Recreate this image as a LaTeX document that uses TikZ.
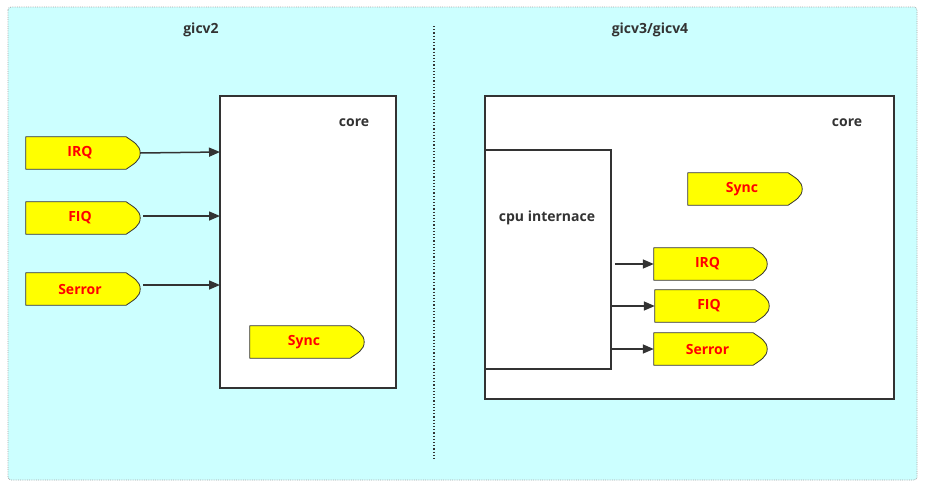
\documentclass[tikz,border=0pt]{standalone}
\usepackage{fontspec}
\setmainfont{Open Sans}
\usetikzlibrary{arrows.meta}
\definecolor{bgcyan}{HTML}{CCFFFF}
\definecolor{dk}{HTML}{333333}
\definecolor{sigyellow}{HTML}{FFFF00}
\definecolor{sigred}{HTML}{FF0000}
\pgfdeclarelayer{back}
\pgfdeclarelayer{mid}
\pgfsetlayers{back,mid,main}
\tikzset{
  lbl/.style={text=dk,font=\bfseries\fontsize{14}{16}\selectfont,inner sep=0pt},
  box/.style={draw=dk,line width=1.6pt,fill=white,inner sep=0pt},
  sigbox/.style={minimum width=114pt,minimum height=32pt,inner sep=0pt},
  sigtxt/.style={text=sigred,font=\bfseries\fontsize{14}{16}\selectfont,inner sep=0pt},
  sigshape/.style={draw=dk,line width=0.8pt,fill=sigyellow,line join=round},
  conn/.style={draw=dk,line width=1.5pt,-{Triangle[length=11pt,width=9pt]}},
}
\newcommand{\sigdraw}[2]{%
  \begin{pgfonlayer}{mid}
  \path[sigshape] (#1.north west) -- ([xshift=-14pt]#1.north east)
    .. controls ([xshift=-7pt,yshift=-5pt]#1.north east) and ([yshift=8pt]#1.east) .. (#1.east)
    .. controls ([yshift=-8pt]#1.east) and ([xshift=-7pt,yshift=5pt]#1.south east) .. ([xshift=-14pt]#1.south east)
    -- (#1.south west) -- cycle;
  \end{pgfonlayer}
  \node[sigtxt] (#1t) at ([xshift=-3pt]#1.center) {#2};}
\begin{document}
\begin{tikzpicture}[x=1pt,y=-1pt]
\useasboundingbox (0,0) rectangle (928,490);
\begin{pgfonlayer}{back}
\path[fill=bgcyan,draw=gray!70,densely dotted,line width=0.8pt,rounded corners=3pt] (8,7) rectangle (917,480);
\end{pgfonlayer}
\draw[dk,line width=1.2pt,dotted] (434,26) -- (434,460);
\node[lbl] (t1) at (201,30) {gicv2};
\node[lbl] (t2) at (650,30) {gicv3/gicv4};

% left core
\begin{pgfonlayer}{back}
\node[box,minimum width=176pt,minimum height=292pt] (core1) at (308,242) {};
\node[box,minimum width=409pt,minimum height=303pt] (core2) at (689.5,247.5) {};
\end{pgfonlayer}
\node[lbl] (c1) at (354,123) {core};
\node[lbl] (c2) at (847,123) {core};

\node[sigbox] (irqa) at (83,153) {};
\node[sigbox] (fiqa) at (83,218) {};
\node[sigbox] (sera) at (83,289) {};
\node[sigbox] (synca) at (307,342) {};
\sigdraw{irqa}{IRQ}
\sigdraw{fiqa}{FIQ}
\sigdraw{sera}{Serror}
\sigdraw{synca}{Sync}

\coordinate (ia) at (220,152);
\coordinate (fa) at (220,216);
\coordinate (sa) at (220,285);
\draw[conn] (irqa.east) -- (ia);
\draw[conn] ([xshift=3pt]fiqa.east |- fa) -- (fa);
\draw[conn] ([xshift=3pt]sera.east |- sa) -- (sa);

% right
\begin{pgfonlayer}{mid}
\node[box,minimum width=126pt,minimum height=219pt] (cpu) at (548,259.5) {};
\end{pgfonlayer}
\node[lbl] (cput) at (547,218) {cpu internace};

\node[sigbox] (syncb) at (745,189) {};
\node[sigbox,minimum width=113pt] (irqb) at (710.5,264) {};
\node[sigbox] (fiqb) at (712,306) {};
\node[sigbox,minimum width=113pt] (serb) at (710.5,349) {};
\sigdraw{syncb}{Sync}
\sigdraw{irqb}{IRQ}
\sigdraw{fiqb}{FIQ}
\sigdraw{serb}{Serror}

\draw[conn] ([xshift=3pt]cpu.east |- irqb.west) -- (irqb.west);
\draw[conn] (cpu.east |- fiqb.west) -- (fiqb.west);
\draw[conn] (cpu.east |- serb.west) -- (serb.west);
\end{tikzpicture}
\end{document}
